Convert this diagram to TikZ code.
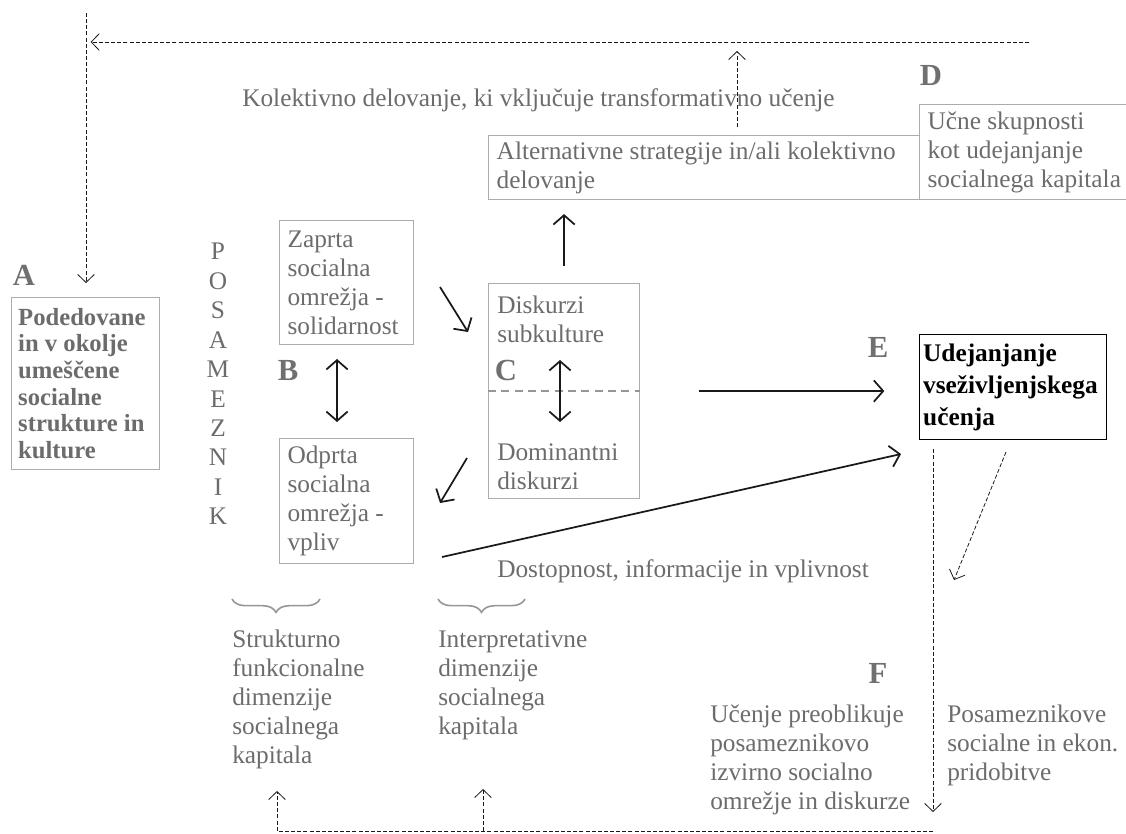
\documentclass[tikz,border=0pt]{standalone}
\usepackage{fontspec}
\setmainfont{Liberation Serif}
\usepackage{xcolor}
\usetikzlibrary{arrows.meta, decorations.pathreplacing}

\definecolor{txtgray}{RGB}{108,108,108}
\definecolor{boxgray}{RGB}{172,172,172}
\definecolor{lettergray}{RGB}{112,112,112}
\definecolor{sepgray}{RGB}{150,150,150}
\definecolor{arrowblack}{RGB}{25,25,25}

\newcommand{\bodyfont}{\fontsize{19pt}{21.75pt}\selectfont}
\newcommand{\boldbody}{\fontsize{18.5pt}{20pt}\selectfont\bfseries}
\newcommand{\letterfont}{\fontsize{23pt}{25pt}\selectfont\bfseries}

\tikzset{
  box/.style={draw=boxgray, line width=0.8pt, anchor=north west, inner xsep=6pt, inner ysep=0pt, text=txtgray, align=flush left, font=\bodyfont},
  txt/.style={text=txtgray, align=flush left, inner sep=0pt, anchor=north west, font=\bodyfont},
  letter/.style={text=lettergray, font=\letterfont, inner sep=0pt},
  solidarr/.style={draw=arrowblack, line width=1.3pt, -{Straight Barb[length=7pt,width=16pt]}},
  dblarr/.style={draw=arrowblack, line width=1.3pt, {Straight Barb[length=7pt,width=16pt]}-{Straight Barb[length=7pt,width=16pt]}},
  dasharr/.style={draw=arrowblack, line width=0.6pt, dash pattern=on 3pt off 1.6pt, -{Straight Barb[length=6pt,width=12.5pt]}},
  bracedim/.style={draw=sepgray, line width=1.2pt, decorate, decoration={brace, mirror, amplitude=10pt}}
}

\begin{document}
\begin{tikzpicture}[x=0.75pt, y=-0.75pt]
\useasboundingbox (0,0) rectangle (1126,833);

\node[box, font=\boldbody, inner xsep=5pt, text width=101pt, minimum width=111pt, minimum height=129pt] at (11,297) (boxA) {Podedovane\\in v okolje\\umeščene\\socialne\\strukture in\\kulture};
\node[box, text width=88.5pt, minimum width=100.5pt, minimum height=93pt] at (279,220) (zaprta) {Zaprta\\socialna\\omrežja -\\solidarnost};
\node[box, text width=88.5pt, minimum width=100.5pt, minimum height=93.75pt] at (279,438) (odprta) {Odprta\\socialna\\omrežja -\\vpliv};
\node[box, minimum width=113.25pt, minimum height=161.25pt] at (488,283) (boxC) {};
\node[box, text width=311pt, minimum width=323.25pt, minimum height=48pt] at (488,135) (alt) {Alternativne strategije in/ali kolektivno\\delovanje};
\node[box, text width=153pt, minimum width=165pt, minimum height=71.25pt] at (919,104) (boxD) {Učne skupnosti\\kot udejanjanje\\socialnega kapitala};
\node[box, draw=black, line width=1pt, text=black, font=\fontsize{19pt}{24pt}\selectfont\bfseries, inner xsep=2.5pt, text width=135pt, minimum width=140.25pt, minimum height=78.75pt] at (919,334) (boxE) {Udejanjanje\\vseživljenjskega\\učenja};

\draw[sepgray, line width=1.5pt, dash pattern=on 6pt off 4pt] (boxC.west) -- (boxC.east);
\node[txt] at (497,296) (disk) {Diskurzi\\subkulture};
\node[txt] at (497,443) (dom) {Dominantni\\diskurzi};

\node[letter] at (24,275) (la) {A};
\node[letter] at (288,370) (lb) {B};
\node[letter] at (506,370) (lc) {C};
\node[letter] at (931,75) (ld) {D};
\node[letter] at (878,347) (le) {E};
\node[letter] at (878,673) (lf) {F};

\node[txt, align=center, anchor=north, font=\fontsize{19pt}{22.08pt}\selectfont] at (218,243) (posam) {P\\O\\S\\A\\M\\E\\Z\\N\\I\\K};
\node[txt, anchor=base west] at (242,106) (kolekt) {Kolektivno delovanje, ki vključuje transformativno učenje};
\node[txt, anchor=base west] at (497,577) (dostop) {Dostopnost, informacije in vplivnost};
\node[txt] at (232,630) (strukt) {Strukturno\\funkcionalne\\dimenzije\\socialnega\\kapitala};
\node[txt] at (438,630) (interp) {Interpretativne\\dimenzije\\socialnega\\kapitala};
\node[txt] at (710,705) (ucenje) {Učenje preoblikuje\\posameznikovo\\izvirno socialno\\omrežje in diskurze};
\node[txt] at (947,705) (pridob) {Posameznikove\\socialne in ekon.\\pridobitve};

\draw[bracedim] (232,599) -- (320,599);
\draw[bracedim] (438,599) -- (525,599);

\coordinate (vtop) at (86,13);
\coordinate (topr) at (1029,42);
\coordinate (kolup) at (737,51);
\coordinate (zc1) at (440,287);
\coordinate (zc2) at (468,332);
\coordinate (co1) at (467,458);
\coordinate (co2) at (440,503);
\coordinate (b1) at (337,359);
\coordinate (b2) at (337,422);
\coordinate (c1) at (560,360);
\coordinate (c2) at (560,422);
\coordinate (ls) at (442,557);
\coordinate (le) at (901,454);
\coordinate (ed) at (933,812);
\coordinate (dg1) at (1006,452);
\coordinate (dg2) at (954,580);
\coordinate (botr) at (933,831);
\coordinate (up1) at (277,791);
\coordinate (up2) at (483,789);

\draw[dasharr, shorten >=10.5pt] (vtop) -- (boxA.north -| vtop);
\draw[dasharr, shorten >=3.5pt] (topr) -- (vtop |- topr);
\draw[dasharr, shorten <=6pt] (alt.north -| kolup) -- (kolup);
\draw[solidarr, shorten <=12.75pt, shorten >=10.5pt] (boxC.north) -- (alt.south -| boxC.north);
\draw[solidarr] (zc1) -- (zc2);
\draw[solidarr] (co1) -- (co2);
\draw[dblarr] (b1) -- (b2);
\draw[dblarr] (c1) -- (c2);
\draw[solidarr, shorten <=44pt, shorten >=26pt] (boxC.east) -- (boxC.east -| boxE.west);
\draw[solidarr] (ls) -- (le);
\draw[dasharr, shorten <=6.75pt] (boxE.south -| ed) -- (ed);
\draw[dasharr] (dg1) -- (dg2);
\draw[dasharr] (botr) -| (up1);
\draw[dasharr] (up2 |- botr) -- (up2);

\end{tikzpicture}
\end{document}
